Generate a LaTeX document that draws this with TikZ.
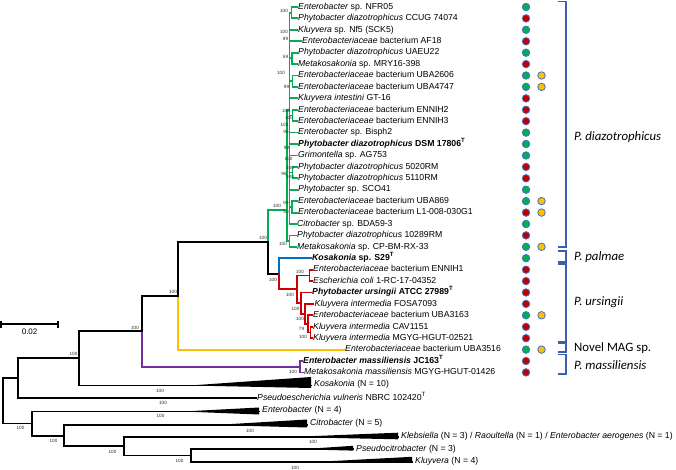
\documentclass[tikz,border=0pt]{standalone}
\usepackage{fontspec}
\setmainfont{Liberation Sans}
\newfontfamily\calibfont{Carlito}
\newcommand\leaffnt{\fontsize{8.7}{10}\selectfont}
\newcommand\bsfnt{\fontsize{4.6}{5}\selectfont}
\newcommand\clfnt{\calibfont\fontsize{12.8}{14}\selectfont}
\newcommand\supT{\textsuperscript{T}}
\definecolor{cgreen}{RGB}{0,176,80}
\definecolor{cblue}{RGB}{0,112,192}
\definecolor{cred}{RGB}{204,0,0}
\definecolor{cyel}{RGB}{255,192,0}
\definecolor{cpur}{RGB}{112,48,160}
\definecolor{brblue}{RGB}{60,95,170}
\definecolor{dotblue}{RGB}{68,114,196}
\definecolor{dgreen}{RGB}{0,176,80}
\definecolor{dred}{RGB}{192,0,0}
\definecolor{dorange}{RGB}{255,192,0}
\definecolor{bsgray}{RGB}{40,40,40}
\begin{document}
\begin{tikzpicture}[x=1pt,y=-1pt,
  tl/.style={line width=1.8pt, line cap=rect},
  leaf/.style={anchor=west, inner sep=1pt, font=\leaffnt, text height=6.3pt, text depth=1.8pt},
  bs/.style={font=\bsfnt, inner sep=0pt, text=bsgray},
  dot/.style={circle, minimum size=7.5pt, inner sep=0pt, draw=dotblue, line width=0.8pt},
  brk/.style={draw=brblue, line width=1.8pt},
  clab/.style={anchor=west, font=\clfnt, inner sep=0pt},
  wedge/.style={fill=black}]
\useasboundingbox (0,0) rectangle (676,470);

% ---------------- leaves ----------------
\node[leaf] (l1) at (297,7.0) {\textit{Enterobacter} sp. NFR05};
\node[leaf] (l2) at (297,18.4) {\textit{Phytobacter diazotrophicus} CCUG 74074};
\node[leaf] (l3) at (297,29.8) {\textit{Kluyvera} sp. Nf5 (SCK5)};
\node[leaf] (l4) at (301,41.3) {\textit{Enterobacteriaceae} bacterium AF18};
\node[leaf] (l5) at (297,52.7) {\textit{Phytobacter diazotrophicus} UAEU22};
\node[leaf] (l6) at (297,64.1) {\textit{Metakosakonia} sp. MRY16-398};
\node[leaf] (l7) at (297,75.5) {\textit{Enterobacteriaceae} bacterium UBA2606};
\node[leaf] (l8) at (297,86.9) {\textit{Enterobacteriaceae} bacterium UBA4747};
\node[leaf] (l9) at (297,98.4) {\textit{Kluyvera intestini} GT-16};
\node[leaf] (l10) at (297,109.8) {\textit{Enterobacteriaceae} bacterium ENNIH2};
\node[leaf] (l11) at (297,121.2) {\textit{Enterobacteriaceae} bacterium ENNIH3};
\node[leaf] (l12) at (297,132.6) {\textit{Enterobacter} sp. Bisph2};
\node[leaf] (l13) at (297,144.0) {\textbf{\textit{Phytobacter diazotrophicus} DSM 17806\supT}};
\node[leaf] (l14) at (297,155.5) {\textit{Grimontella} sp. AG753};
\node[leaf] (l15) at (297,166.9) {\textit{Phytobacter diazotrophicus} 5020RM};
\node[leaf] (l16) at (297,178.3) {\textit{Phytobacter diazotrophicus} 5110RM};
\node[leaf] (l17) at (297,189.7) {\textit{Phytobacter} sp. SCO41};
\node[leaf] (l18) at (297,201.1) {\textit{Enterobacteriaceae} bacterium UBA869};
\node[leaf] (l19) at (297,212.6) {\textit{Enterobacteriaceae} bacterium L1-008-030G1};
\node[leaf] (l20) at (296,224.0) {\textit{Citrobacter} sp. BDA59-3};
\node[leaf] (l21) at (296,235.4) {\textit{Phytobacter diazotrophicus} 10289RM};
\node[leaf] (l22) at (296,246.8) {\textit{Metakosakonia} sp. CP-BM-RX-33};
\node[leaf] (l23) at (311,258.2) {\textbf{\textit{Kosakonia} sp. S29\supT}};
\node[leaf] (l24) at (312,269.7) {\textit{Enterobacteriaceae} bacterium ENNIH1};
\node[leaf] (l25) at (312,281.1) {\textit{Escherichia coli} 1-RC-17-04352};
\node[leaf] (l26) at (311,292.5) {\textbf{\textit{Phytobacter ursingii} ATCC 27989\supT}};
\node[leaf] (l27) at (313.5,303.9) {\textit{Kluyvera intermedia} FOSA7093};
\node[leaf] (l28) at (312,315.3) {\textit{Enterobacteriaceae} bacterium UBA3163};
\node[leaf] (l29) at (312,326.8) {\textit{Kluyvera intermedia} CAV1151};
\node[leaf] (l30) at (312,338.2) {\textit{Kluyvera intermedia} MGYG-HGUT-02521};
\node[leaf] (l31) at (344,349.6) {\textit{Enterobacteriaceae} bacterium UBA3516};
\node[leaf] (l32) at (302,361.0) {\textbf{\textit{Enterobacter massiliensis} JC163\supT}};
\node[leaf] (l33) at (303,372.4) {\textit{Metakosakonia massiliensis} MGYG-HGUT-01426};
\node[leaf] (l35) at (256,398.0) {\textit{Pseudoescherichia vulneris} NBRC 102420\supT};

% collapsed clade labels
\node[leaf] (cKos) at (313,384.5) {\textit{Kosakonia} (N = 10)};
\node[leaf] (cEnt) at (261,410.5) {\textit{Enterobacter} (N = 4)};
\node[leaf] (cCit) at (309,423.5) {\textit{Citrobacter} (N = 5)};
\node[leaf] (cKle) at (400,436.2) {\textit{Klebsiella} (N = 3) / \textit{Raoultella} (N = 1) / \textit{Enterobacter aerogenes} (N = 1)};
\node[leaf] (cPsc) at (355,448.8) {\textit{Pseudocitrobacter} (N = 3)};
\node[leaf] (cKlu) at (414,461.3) {\textit{Kluyvera} (N = 4)};

% ---------------- internal nodes ----------------
\coordinate (gT) at (289.5,110);
\coordinate (n12) at (291.5,12.7);
\coordinate (n56) at (292,58.4);
\coordinate (n78) at (292.5,81.2);
\coordinate (n1011) at (292.5,115.5);
\coordinate (n1516) at (292.5,172.6);
\coordinate (n1819) at (292,206.9);
\coordinate (n2122) at (289.5,241.1);
\coordinate (gR) at (287,210);
\coordinate (n268) at (268,241.9);
\coordinate (nG) at (279.3,273.75);
\coordinate (nF) at (297,289.3);
\coordinate (nE) at (309.5,275.4);
\coordinate (nD) at (301,303.2);
\coordinate (nC) at (305,313.9);
\coordinate (nB) at (308,323.9);
\coordinate (nA) at (310.5,332.5);
\coordinate (n178) at (178,295.75);
\coordinate (nPur) at (300,366.7);
\coordinate (n142) at (141.7,331.2);
\coordinate (n79) at (79.3,358.35);
\coordinate (n18) at (18.3,378.3);
\coordinate (n190) at (190.7,455.5);
\coordinate (n124) at (124,446.25);
\coordinate (n64) at (64,435.6);
\coordinate (n32) at (32.3,423.55);
\coordinate (root) at (3,400.9);
% collapsed-clade wedges: start and tip
\coordinate (sKos) at (190,385.5);  \coordinate (wKos) at (311,385.5);
\coordinate (sEnt) at (183,411.5);  \coordinate (wEnt) at (259,411.5);
\coordinate (sCit) at (215,425);    \coordinate (wCit) at (307,425);
\coordinate (sKle) at (290,437);    \coordinate (wKle) at (398,437);
\coordinate (sPsc) at (300,449.3);  \coordinate (wPsc) at (353,449.3);
\coordinate (sKlu) at (320,461.7);  \coordinate (wKlu) at (412,461.7);

% ---------------- green clade ----------------
\begin{scope}[tl,cgreen]
\draw (n12) |- (l1.west) (n12) |- (l2.west);
\draw (n56) |- (l5.west) (n56) |- (l6.west);
\draw (n78) |- (l7.west) (n78) |- (l8.west);
\draw (n1011) |- (l10.west) (n1011) |- (l11.west);
\draw (n1516) |- (l15.west) (n1516) |- (l16.west);
\draw (n1819) |- (l18.west) (n1819) |- (l19.west);
\draw (n2122) |- (l21.west) (n2122) |- (l22.west);
\draw (gT) |- (n12) (gT) |- (l3.west) (gT) |- (l4.west) (gT) |- (n56)
      (gT) |- (n78) (gT) |- (l9.west) (gT) |- (n1011) (gT) |- (l12.west)
      (gT) |- (l13.west) (gT) |- (l14.west) (gT) |- (n1516) (gT) |- (l17.west)
      (gT) |- (n1819) (gT) |- (l20.west);
\draw (gR) |- (gT) (gR) |- (n2122);
\draw (n268) |- (gR);
\end{scope}

% ---------------- blue / red ----------------
\draw[tl] (n268) |- (nG);
\draw[tl,cblue] (nG) |- (l23.west);
\begin{scope}[tl,cred]
\draw (nG) |- (nF);
\draw (nF) |- (nE) (nF) |- (nD);
\draw (nE) |- (l24.west) (nE) |- (l25.west);
\draw (nD) |- (l26.west) (nD) |- (nC);
\draw (nC) |- (l27.west) (nC) |- (nB);
\draw (nB) |- (l28.west) (nB) |- (nA);
\draw (nA) |- (l29.west) (nA) |- (l30.west);
\end{scope}

% ---------------- backbone ----------------
\draw[tl] (n178) |- (n268);
\draw[tl,cyel] (n178) |- (l31.west);
\draw[tl] (n142) |- (n178);
\draw[tl,cpur] (n142) |- (nPur);
\draw[tl,cpur] (nPur) |- (l32.west) (nPur) |- (l33.west);
\draw[tl] (n79) |- (n142) (n79) |- (wKos);
\draw[tl] (n18) |- (n79) (n18) |- (l35.west);
\draw[tl] (root) |- (n18) (root) |- (n32);
\draw[tl] (n32) |- (wEnt) (n32) |- (n64);
\draw[tl] (n64) |- (wCit) (n64) |- (n124);
\draw[tl] (n124) |- (wKle) (n124) |- (n190);
\draw[tl] (n190) |- (wPsc) (n190) |- (wKlu);

% wedges (collapsed clades)
\fill[wedge] (sKos) -- ([yshift=8.5pt]wKos) -- ([yshift=-2.5pt]wKos) -- cycle;
\fill[wedge] (sEnt) -- ([yshift=4pt]wEnt) -- ([yshift=-3pt]wEnt) -- cycle;
\fill[wedge] (sCit) -- ([yshift=5.5pt]wCit) -- ([yshift=-2.5pt]wCit) -- cycle;
\fill[wedge] (sKle) -- ([yshift=4.3pt]wKle) -- ([yshift=-2.3pt]wKle) -- cycle;
\fill[wedge] (sPsc) -- ([yshift=3.5pt]wPsc) -- ([yshift=-1.3pt]wPsc) -- cycle;
\fill[wedge] (sKlu) -- ([yshift=4.9pt]wKlu) -- ([yshift=-1.3pt]wKlu) -- cycle;

% ---------------- scale bar ----------------
\coordinate (sb1) at (1,324);
\coordinate (sb2) at (58.3,324);
\draw[tl,line cap=butt] (sb1) -- (sb2);
\draw[tl,line cap=butt] (1,320.5) -- (1,327.5) (58.3,320.5) -- (58.3,327.5);
\node[font=\fontsize{8}{9}\selectfont, inner sep=0pt] (sbl) at (29.6,332) {0.02};

% ---------------- bootstrap values ----------------
\foreach \x/\y/\t [count=\i] in {
  284/11/100, 284/32/100, 285.5/39/99, 285.5/57/59, 281/73/100, 286.5/87/99,
  286/110.5/100, 289/118/100, 284.5/124.5/100, 286/132/96, 286.5/148/99,
  288.5/158.5/100, 290/168/100, 284/174/96, 290/177/100, 286/203/99,
  286/211.5/50, 277/206/100, 283/244/100,
  263/238/100, 273/279.5/100, 300/271.5/100, 290/294.5/100, 295.5/308.5/100,
  300/319/100, 301.5/329/79, 303/337/100, 293/372/100, 173/292/100,
  135/327.5/100, 73.5/354/100, 160/391/100, 163/403/100, 160.5/416/100,
  20.5/428/100, 250/431/100, 53.5/441/100, 313/441.5/100, 112.5/452/100,
  179.5/461/100, 295/467.5/100}
  \node[bs] (bs\i) at (\x,\y) {\t};

% ---------------- trait dots ----------------
\foreach \y/\c [count=\i] in {
  7.0/dgreen, 18.4/dred, 29.8/dgreen, 41.3/dred, 52.7/dgreen, 64.1/dred,
  75.5/dgreen, 86.9/dgreen, 98.4/dred, 109.8/dred, 121.2/dred, 132.6/dgreen,
  144.0/dgreen, 155.5/dgreen, 166.9/dred, 178.3/dred, 189.7/dgreen,
  201.1/dgreen, 212.6/dred, 224.0/dgreen, 235.4/dred, 246.8/dgreen,
  258.2/dgreen, 269.7/dred, 281.1/dred, 292.5/dred, 303.9/dred,
  315.3/dgreen, 326.8/dred, 338.2/dred, 349.6/dgreen, 361.0/dred, 372.4/dred}
  \node[dot, fill=\c] (d\i) at (526,\y) {};
\foreach \y [count=\i] in {75.5, 86.9, 201.1, 212.6, 246.8, 315.3, 349.6}
  \node[dot, fill=dorange] (o\i) at (541.5,\y) {};

% ---------------- brackets ----------------
\draw[brk] (558,1.5) -- (565.7,1.5) -- (565.7,247) -- (558,247);
\draw[brk] (558,251) -- (565.7,251) -- (565.7,261.7) -- (558,261.7);
\draw[brk] (558,264) -- (565.7,264) -- (565.7,341.7) -- (558,341.7);
\draw[brk] (558,343.5) -- (565.7,343.5) -- (565.7,352.3) -- (558,352.3);
\draw[brk] (558,354.5) -- (565.7,354.5) -- (565.7,374) -- (558,374);
\node[clab] (bl1) at (574,137) {\itshape P. diazotrophicus};
\node[clab] (bl2) at (574,257) {\itshape P. palmae};
\node[clab] (bl3) at (574,302) {\itshape P. ursingii};
\node[clab] (bl4) at (574,348.3) {Novel MAG sp.};
\node[clab] (bl5) at (574,365) {\itshape P. massiliensis};
\end{tikzpicture}
\end{document}
